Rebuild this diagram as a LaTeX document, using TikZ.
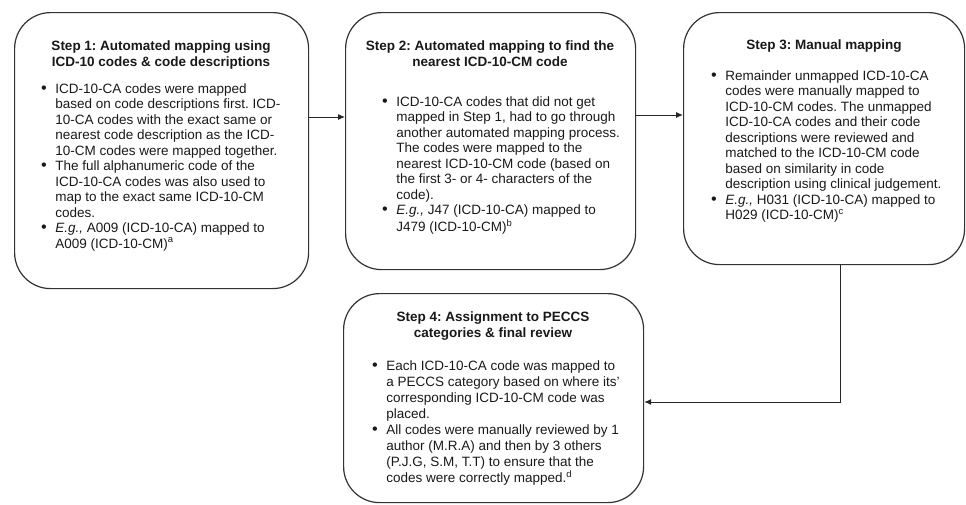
\documentclass[tikz,border=0pt]{standalone}
\usepackage{fontspec}
\usepackage{graphicx}
\setmainfont{Liberation Sans}
\usetikzlibrary{arrows.meta}
\frenchspacing
\newcommand{\bul}{\raisebox{-0.2pt}{\scalebox{1.2}{\textbullet}}}
\begin{document}
\begin{tikzpicture}[x=1pt,y=-1pt,
  box/.style={draw=black!80, line width=1.2pt, rounded corners=36pt, inner sep=0pt, anchor=north west},
  ttl/.style={anchor=base, inner sep=0pt, font=\frenchspacing\bfseries\fontsize{13.5}{16}\selectfont, text=black!90},
  lst/.style={anchor=base west, inner sep=0pt, font=\frenchspacing\fontsize{13.5}{15.5}\selectfont, text=black!90},
  arr/.style={draw=black!85, line width=1pt, -{Latex[length=7pt,width=6pt]}}]
\useasboundingbox (0,0) rectangle (966,504);

% boxes
\node[box, minimum width=294pt, minimum height=276pt] (b1) at (14,12) {};
\node[box, minimum width=290pt, minimum height=257pt] (b2) at (345,12) {};
\node[box, minimum width=281pt, minimum height=252pt] (b3) at (683,12) {};
\node[box, minimum width=300pt, minimum height=209pt] (b4) at (343,293) {};

% titles
\node[ttl] (t1) at (161,50) {\begin{tabular}[t]{@{}c@{}}Step 1: Automated mapping using\\ ICD-10 codes \& code descriptions\end{tabular}};
\node[ttl] (t2) at (490,50) {\begin{tabular}[t]{@{}c@{}}Step 2: Automated mapping to find the\\ nearest ICD-10-CM code\end{tabular}};
\node[ttl] (t3) at (824,49) {\begin{tabular}[t]{@{}c@{}}Step 3: Manual mapping\end{tabular}};
\node[ttl] (t4) at (493,321) {\begin{tabular}[t]{@{}c@{}}Step 4: Assignment to PECCS\\ categories \& final review\end{tabular}};

% lists
\node[lst] (l1) at (41,93) {\begin{tabular}[t]{@{}l@{\hspace{8.5pt}}l@{}}
\bul & ICD-10-CA codes were mapped\\
 & based on code descriptions first. ICD-\\
 & 10-CA codes with the exact same or\\
 & nearest code description as the ICD-\\
 & 10-CM codes were mapped together.\\
\bul & The full alphanumeric code of the\\
 & ICD-10-CA codes was also used to\\
 & map to the exact same ICD-10-CM\\
 & codes.\\
\bul & \textit{E.g.,} A009 (ICD-10-CA) mapped to\\
 & A009 (ICD-10-CM)\textsuperscript{a}
\end{tabular}};

\node[lst] (l2) at (382,106) {\begin{tabular}[t]{@{}l@{\hspace{8.5pt}}l@{}}
\bul & ICD-10-CA codes that did not get\\
 & mapped in Step 1, had to go through\\
 & another automated mapping process.\\
 & The codes were mapped to the\\
 & nearest ICD-10-CM code (based on\\
 & the first 3- or 4- characters of the\\
 & code).\\
\bul & \textit{E.g.,} J47 (ICD-10-CA) mapped to\\
 & J479 (ICD-10-CM)\textsuperscript{b}
\end{tabular}};

\node[lst] (l3) at (711,80) {\begin{tabular}[t]{@{}l@{\hspace{8.5pt}}l@{}}
\bul & Remainder unmapped ICD-10-CA\\
 & codes were manually mapped to\\
 & ICD-10-CM codes. The unmapped\\
 & ICD-10-CA codes and their code\\
 & descriptions were reviewed and\\
 & matched to the ICD-10-CM code\\
 & based on similarity in code\\
 & description using clinical judgement.\\
\bul & \textit{E.g.,} H031 (ICD-10-CA) mapped to\\
 & H029 (ICD-10-CM)\textsuperscript{c}
\end{tabular}};

\node[lst, font=\frenchspacing\fontsize{13.5}{16}\selectfont] (l4) at (372,370) {\begin{tabular}[t]{@{}l@{\hspace{8.5pt}}l@{}}
\bul & Each ICD-10-CA code was mapped to\\
 & a PECCS category based on where its'\\
 & corresponding ICD-10-CM code was\\
 & placed.\\
\bul & All codes were manually reviewed by 1\\
 & author (M.R.A) and then by 3 others\\
 & (P.J.G, S.M, T.T) to ensure that the\\
 & codes were correctly mapped.\textsuperscript{d}
\end{tabular}};

% connectors
\coordinate (y1) at (0,117);
\coordinate (y2) at (0,115);
\coordinate (c3) at (840,402);
\draw[arr] (b1.east |- y1) -- (b2.west |- y1);
\draw[arr] (b2.east |- y2) -- (b3.west |- y2);
\draw[arr] (b3.south -| c3) |- (b4.east |- c3);
\end{tikzpicture}
\end{document}
